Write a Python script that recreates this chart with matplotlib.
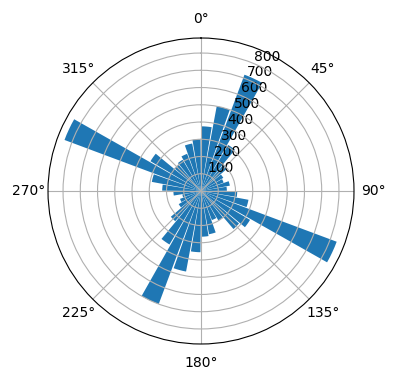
import matplotlib
matplotlib.use("Agg")
import matplotlib.pyplot as plt
import numpy as np

# direction bins (deg, start of each 10 deg bin, clockwise from north)
bin_start = np.arange(0, 360, 10)
counts = [375, 500, 720, 310, 200, 150, 140, 170, 150,
          210, 280, 840, 330, 290, 200, 180, 255, 265,
          355, 475, 700, 360, 230, 150, 130, 110, 160,
          225, 290, 845, 340, 200, 210, 230, 280, 300]

fig = plt.figure(figsize=(3.96, 3.8), dpi=100)
ax = fig.add_axes([48 / 396, 36 / 380, 306 / 396, 306 / 380], projection="polar")
ax.set_theta_zero_location("N")
ax.set_theta_direction(-1)

theta = np.deg2rad(bin_start + 5)
ax.bar(theta, counts, width=np.deg2rad(9), color="#1f77b4")
ax.set_rticks([100, 200, 300, 400, 500, 600, 700, 800])

fig.savefig("out.png", dpi=100)
